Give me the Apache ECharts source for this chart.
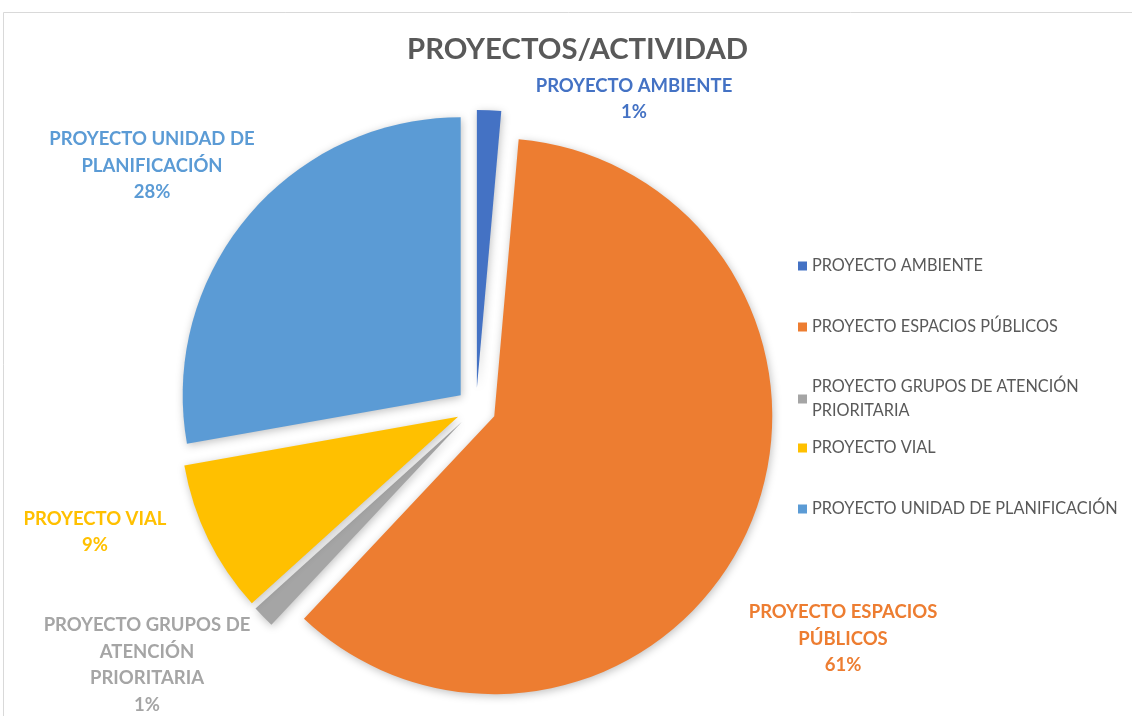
<!DOCTYPE html>
<html>
<head>
<meta charset="utf-8">
<script src="https://cdn.jsdelivr.net/npm/echarts@6/dist/echarts.min.js"></script>
<style>
  html, body { margin: 0; padding: 0; background: #fff; }
  #chart { width: 1132px; height: 716px; }
</style>
</head>
<body>
<div id="chart"></div>
<script>
const categories = [
    'PROYECTO AMBIENTE',
    'PROYECTO ESPACIOS PÚBLICOS',
    'PROYECTO GRUPOS DE ATENCIÓN PRIORITARIA',
    'PROYECTO VIAL',
    'PROYECTO UNIDAD DE PLANIFICACIÓN',
];
const shares = [1.4, 60.6, 1.3, 8.9, 27.8];
const labelTexts = [
    'PROYECTO AMBIENTE',
    'PROYECTO ESPACIOS\nPÚBLICOS',
    'PROYECTO GRUPOS DE\nATENCIÓN\nPRIORITARIA',
    'PROYECTO VIAL',
    'PROYECTO UNIDAD DE\nPLANIFICACIÓN',
];
const legendTexts = [
    'PROYECTO AMBIENTE',
    'PROYECTO ESPACIOS PÚBLICOS',
    'PROYECTO GRUPOS DE ATENCIÓN\nPRIORITARIA',
    'PROYECTO VIAL',
    'PROYECTO UNIDAD DE PLANIFICACIÓN',
];

const palette = ['#4472C4', '#ED7D31', '#A5A5A5', '#FFC000', '#5B9BD5'];
const font = 'Lato, "Open Sans", sans-serif';

// where Excel dropped each data label (centre of the text block)
const labelSpots = [[634, 99], [843, 639], [147, 665], [95, 532], [152, 166]];
const legendTops = [249, 310, 370, 431, 492];

const total = shares.reduce((a, b) => a + b, 0);

const chart = echarts.init(document.getElementById('chart'), null, { renderer: 'canvas' });

// pie labels can't be pinned freely, so the data labels are drawn as text graphics
const labelGraphics = labelTexts.map((text, i) => ({
    type: 'text',
    x: labelSpots[i][0],
    y: labelSpots[i][1],
    silent: true,
    style: {
        text: text + '\n' + Math.round(shares[i] / total * 100) + '%',
        fill: palette[i],
        font: 'bold 18.5px ' + font,
        lineHeight: 26.5,
        align: 'center',
        verticalAlign: 'middle',
    },
}));

chart.setOption({
    backgroundColor: '#fff',
    animation: false,
    color: palette,
    title: {
        text: 'PROYECTOS/ACTIVIDAD',
        left: 402,
        top: 30,
        textStyle: { color: '#595959', fontSize: 29.3, fontWeight: 'bold', fontFamily: font },
    },
    graphic: [{
        type: 'rect',
        shape: { x: 3.5, y: 12.5, width: 1140, height: 720 },
        style: { fill: 'none', stroke: '#D9D9D9', lineWidth: 1 },
        silent: true,
    }, ...labelGraphics],
    legend: legendTexts.map((text, i) => ({
        orient: 'vertical',
        left: 793,
        top: legendTops[i],
        data: [categories[i]],
        icon: 'rect',
        itemWidth: 9,
        itemHeight: 9,
        itemGap: 7,
        selectedMode: false,
        formatter: () => text,
        textStyle: { color: '#595959', fontSize: 16.3, fontFamily: font, lineHeight: 24 },
    })),
    series: [{
        type: 'pie',
        center: [476, 408],
        radius: 278,
        startAngle: 90,
        clockwise: true,
        selectedMode: 'multiple',
        selectedOffset: 20,
        avoidLabelOverlap: false,
        emphasis: { scale: false },
        itemStyle: {
            shadowBlur: 8,
            shadowColor: 'rgba(0,0,0,0.25)',
            shadowOffsetX: 1,
            shadowOffsetY: 2,
        },
        label: { show: false },
        labelLine: { show: false },
        data: categories.map((name, i) => ({
            name,
            value: shares[i],
            selected: true,
        })),
    }],
});
</script>
</body>
</html>
